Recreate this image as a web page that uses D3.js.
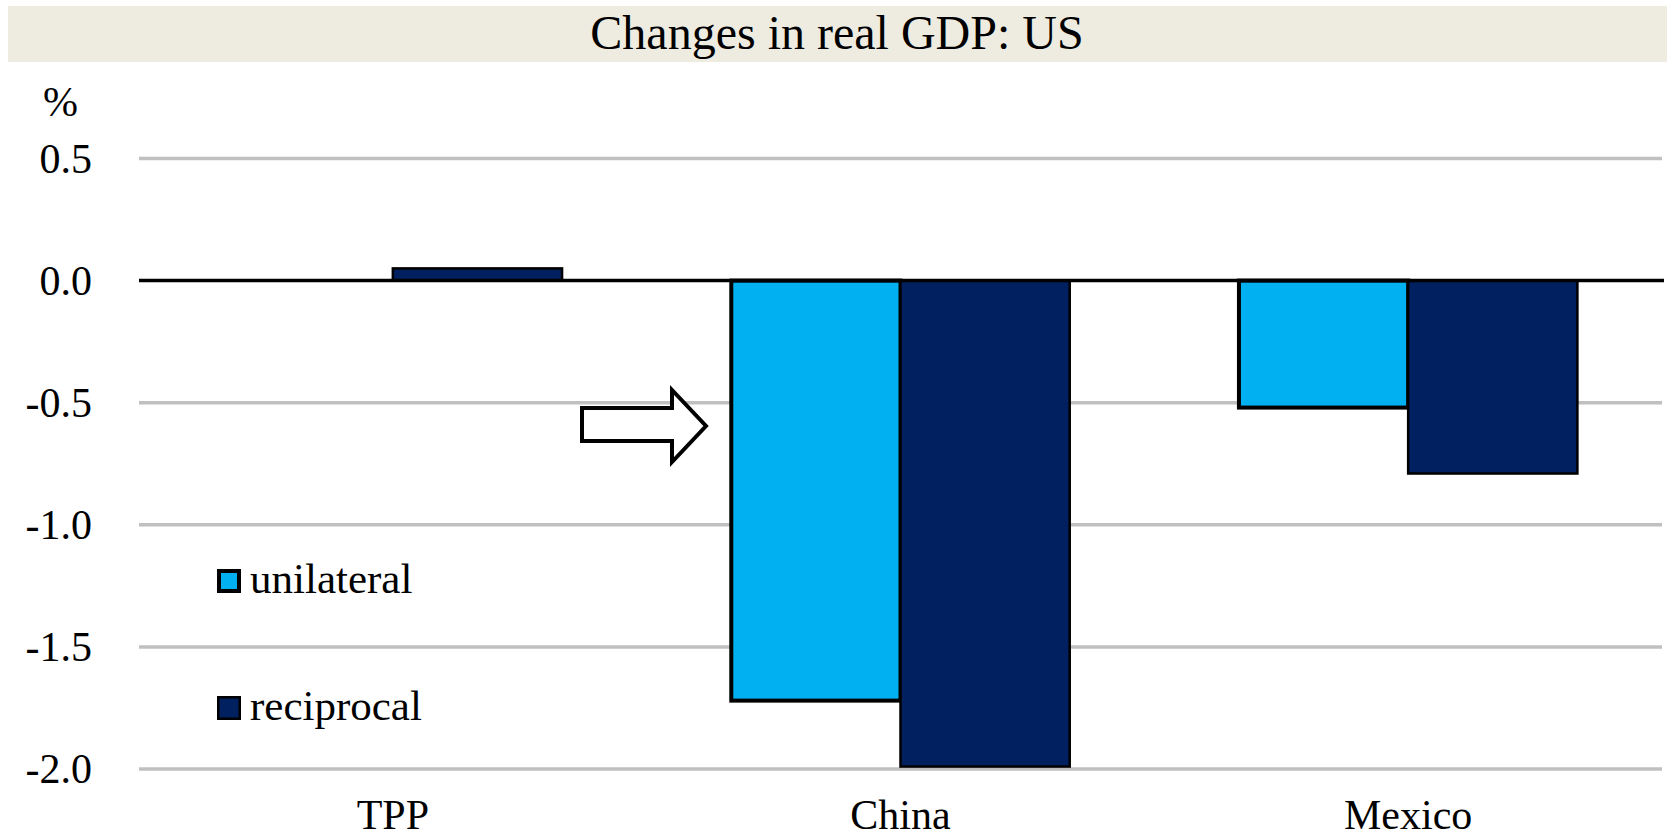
<!DOCTYPE html>
<html>
<head>
<meta charset="utf-8">
<script src="https://cdn.jsdelivr.net/npm/d3@7"></script>
<style>
  html, body { margin: 0; padding: 0; background: #fff; }
  svg { display: block; font-family: "Liberation Serif", "Times New Roman", serif; }
</style>
</head>
<body>
<div id="chart"></div>
<script>
const categories = ["TPP", "China", "Mexico"];
const seriesNames = ["unilateral", "reciprocal"];
const unilateral = [0, -1.72, -0.52];
const reciprocal = [0.05, -1.99, -0.79];
const yTicks = [0.5, 0.0, -0.5, -1.0, -1.5, -2.0];

const width = 1667;
const height = 837;
const colors = { unilateral: "#00B0F0", reciprocal: "#002060" };
const strokeW = { unilateral: 4, reciprocal: 2.5 };

const svg = d3.select("#chart")
    .append("svg")
    .attr("width", width)
    .attr("height", height);

// title band
svg.append("rect")
    .attr("x", 8)
    .attr("y", 6)
    .attr("width", width - 8)
    .attr("height", 56)
    .attr("fill", "#EEECE1");

svg.append("text")
    .attr("x", 837)
    .attr("y", 49)
    .attr("text-anchor", "middle")
    .attr("font-size", 48)
    .attr("fill", "#000")
    .text("Changes in real GDP: US");

// scales
const x0 = d3.scaleBand()
    .domain(categories)
    .range([139, 1662])
    .paddingInner(1 / 3)
    .paddingOuter(1 / 6);

const x1 = d3.scaleBand()
    .domain(seriesNames)
    .range([0, x0.bandwidth()]);

const y = d3.scaleLinear()
    .domain([-2, 0.5])
    .range([769, 158.5]);

// gridlines
svg.append("g")
    .selectAll("line")
    .data(yTicks.filter(d => d !== 0))
    .join("line")
    .attr("x1", 139)
    .attr("x2", 1662)
    .attr("y1", d => y(d))
    .attr("y2", d => y(d))
    .attr("stroke", "#C0C0C0")
    .attr("stroke-width", 3.5);

// y tick labels
svg.append("g")
    .selectAll("text")
    .data(yTicks)
    .join("text")
    .attr("x", 92)
    .attr("y", d => y(d) + 14)
    .attr("text-anchor", "end")
    .attr("font-size", 42)
    .text(d => d3.format(".1f")(d).replace("−", "-"));

svg.append("text")
    .attr("x", 43)
    .attr("y", 116)
    .attr("font-size", 42)
    .text("%");

// bars
const rows = categories.map((c, i) => ({
    cat: c,
    vals: [
        { key: "unilateral", v: unilateral[i] },
        { key: "reciprocal", v: reciprocal[i] }
    ]
}));

svg.append("g")
    .selectAll("g")
    .data(rows)
    .join("g")
    .attr("transform", d => `translate(${x0(d.cat)},0)`)
    .selectAll("rect")
    .data(d => d.vals.filter(e => e.v !== 0))
    .join("rect")
    .attr("x", d => x1(d.key))
    .attr("y", d => y(Math.max(0, d.v)))
    .attr("width", x1.bandwidth())
    .attr("height", d => Math.abs(y(d.v) - y(0)))
    .attr("fill", d => colors[d.key])
    .attr("stroke", "#000")
    .attr("stroke-width", d => strokeW[d.key]);

// zero axis line
svg.append("line")
    .attr("x1", 139)
    .attr("x2", 1664)
    .attr("y1", y(0))
    .attr("y2", y(0))
    .attr("stroke", "#000")
    .attr("stroke-width", 3.5);

// category labels
svg.append("g")
    .selectAll("text")
    .data(categories)
    .join("text")
    .attr("x", d => x0(d) + x0.bandwidth() / 2)
    .attr("y", 829)
    .attr("text-anchor", "middle")
    .attr("font-size", 42)
    .text(d => d);

// legend
const legend = svg.append("g")
    .selectAll("g")
    .data(seriesNames)
    .join("g")
    .attr("transform", (d, i) => `translate(217,${569 + i * 127})`);

legend.append("rect")
    .attr("x", d => strokeW[d] / 2)
    .attr("y", d => strokeW[d] / 2)
    .attr("width", d => 24 - strokeW[d])
    .attr("height", d => 24 - strokeW[d])
    .attr("fill", d => colors[d])
    .attr("stroke", "#000")
    .attr("stroke-width", d => strokeW[d]);

legend.append("text")
    .attr("x", 33)
    .attr("y", 24)
    .attr("font-size", 43)
    .text(d => d);

// arrow pointing at the China bars
const arrowPts = [
    [582, 408], [672, 408], [672, 390], [706, 426],
    [672, 462], [672, 441], [582, 441]
];
svg.append("path")
    .attr("d", d3.line()(arrowPts) + "Z")
    .attr("fill", "#fff")
    .attr("stroke", "#000")
    .attr("stroke-width", 4)
    .attr("stroke-linejoin", "miter");
</script>
</body>
</html>
